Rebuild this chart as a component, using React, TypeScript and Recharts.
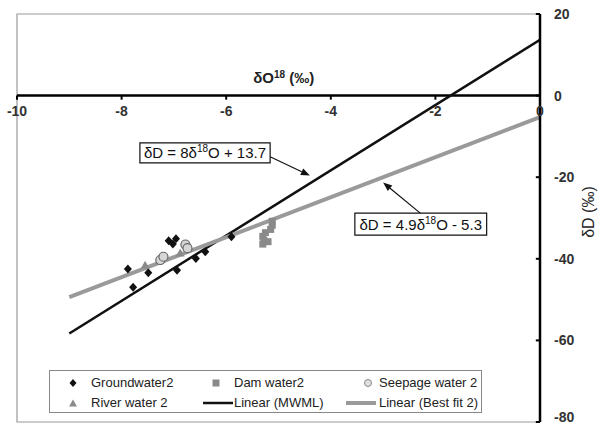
import React from 'react'
import {
  ComposedChart,
  XAxis,
  YAxis,
  Scatter,
  Line,
  ReferenceLine,
  ReferenceArea,
  ReferenceDot,
  Legend,
} from 'recharts'

const FONT = "'Liberation Sans', Arial, sans-serif"

// values (δ18O, δD)
const groundwater = [
  { x: -7.88, y: -42.5 },
  { x: -7.78, y: -47.0 },
  { x: -7.49, y: -43.4 },
  { x: -7.1, y: -35.6 },
  { x: -6.96, y: -35.1 },
  { x: -7.02, y: -36.4 },
  { x: -6.94, y: -42.8 },
  { x: -6.58, y: -39.9 },
  { x: -6.4, y: -38.3 },
  { x: -5.9, y: -34.6 },
]

const damWater = [
  { x: -5.12, y: -30.8 },
  { x: -5.12, y: -31.8 },
  { x: -5.15, y: -32.8 },
  { x: -5.25, y: -33.6 },
  { x: -5.3, y: -34.5 },
  { x: -5.28, y: -35.5 },
  { x: -5.3, y: -36.4 },
  { x: -5.2, y: -35.8 },
]

const seepageWater = [
  { x: -7.26, y: -40.3 },
  { x: -7.2, y: -39.5 },
  { x: -6.78, y: -36.5 },
  { x: -6.74, y: -37.4 },
]

const riverWater = [
  { x: -7.55, y: -41.6 },
  { x: -6.88, y: -38.6 },
]

const mwmlLine = [
  { x: -9, y: -58.3 },
  { x: 0, y: 13.7 },
]

const bestFitLine = [
  { x: -9, y: -49.4 },
  { x: 0, y: -5.3 },
]

const xTicks = [-10, -8, -6, -4, -2, 0]
const yTicks = [-80, -60, -40, -20, 0, 20]

const GROUND_COLOR = '#111111'
const DAM_COLOR = '#8a8a8a'
const RIVER_COLOR = '#8a8a8a'
const MWML_COLOR = '#111111'
const FIT_COLOR = '#9a9a9a'

function Diamond(props: any) {
  const { cx, cy } = props
  return <path d={`M${cx},${cy - 4.5}L${cx + 4},${cy}L${cx},${cy + 4.5}L${cx - 4},${cy}Z`} fill={GROUND_COLOR} />
}

function Square(props: any) {
  const { cx, cy } = props
  return <rect x={cx - 3.5} y={cy - 3.5} width={7} height={7} fill={DAM_COLOR} />
}

function Circle(props: any) {
  const { cx, cy } = props
  return <circle cx={cx} cy={cy} r={4.5} fill="#d6d6d6" stroke="#666" strokeWidth={1.2} />
}

function Triangle(props: any) {
  const { cx, cy } = props
  return <path d={`M${cx},${cy - 4.5}L${cx + 4.5},${cy + 3.5}L${cx - 4.5},${cy + 3.5}Z`} fill={RIVER_COLOR} />
}

function Arrow(props: any) {
  const { x1, y1, x2, y2 } = props
  const a = Math.atan2(y2 - y1, x2 - x1)
  const len = 9
  const w = 3.5
  const bx = x2 - len * Math.cos(a)
  const by = y2 - len * Math.sin(a)
  const p1 = `${bx + w * Math.sin(a)},${by - w * Math.cos(a)}`
  const p2 = `${bx - w * Math.sin(a)},${by + w * Math.cos(a)}`
  return (
    <g>
      <line x1={x1} y1={y1} x2={bx} y2={by} stroke="#111" strokeWidth={1.2} />
      <polygon points={`${x2},${y2} ${p1} ${p2}`} fill="#111" />
    </g>
  )
}

function EqLabel(props: any) {
  const { viewBox, coef, rest } = props
  const { x, y, width, height } = viewBox
  return (
    <text
      x={x + width / 2}
      y={y + height / 2}
      dy="0.36em"
      textAnchor="middle"
      fontSize={15}
      fontFamily={FONT}
      fill="#111"
    >
      {`δD = ${coef}δ`}
      <tspan dy={-6} fontSize={10}>18</tspan>
      <tspan dy={6}>{`O ${rest}`}</tspan>
    </text>
  )
}

function XTitle(props: any) {
  const { viewBox } = props
  return (
    <text
      x={viewBox.x}
      y={viewBox.y}
      dy="0.36em"
      textAnchor="middle"
      fontSize={15}
      fontWeight="bold"
      fontFamily={FONT}
      fill="#222"
    >
      δO
      <tspan dy={-5} fontSize={10}>18</tspan>
      <tspan dy={5}> (‰)</tspan>
    </text>
  )
}

function YTitle(props: any) {
  const { viewBox } = props
  const cx = viewBox.x + viewBox.width - 12
  const cy = viewBox.y + viewBox.height / 2 - 6
  return (
    <text
      x={cx}
      y={cy}
      transform={`rotate(-90 ${cx} ${cy})`}
      dy="0.36em"
      textAnchor="middle"
      fontSize={16}
      fontFamily={FONT}
      fill="#222"
    >
      δD (‰)
    </text>
  )
}

function YTick(props: any) {
  const { x, y, payload } = props
  // keep the lowest label inside the picture
  const ty = Math.min(y, 417)
  return (
    <text x={x} y={ty} dy="0.36em" textAnchor="start" fontSize={14} fontWeight="bold" fill="#333" fontFamily={FONT}>
      {payload.value}
    </text>
  )
}

function LegendMarker(props: { kind: string }) {
  const k = props.kind
  if (k === 'diamond') return <svg width={10} height={10}><path d="M5,1L8.5,5L5,9L1.5,5Z" fill={GROUND_COLOR} /></svg>
  if (k === 'square') return <svg width={10} height={10}><rect x={1.5} y={1.5} width={7} height={7} fill={DAM_COLOR} /></svg>
  if (k === 'circle') return <svg width={10} height={10}><circle cx={5} cy={5} r={3.5} fill="#e0e0e0" stroke="#888" /></svg>
  if (k === 'triangle') return <svg width={10} height={10}><path d="M5,1.5L9,8.5L1,8.5Z" fill={RIVER_COLOR} /></svg>
  if (k === 'black') return <svg width={30} height={10}><line x1={0} y1={5} x2={30} y2={5} stroke={MWML_COLOR} strokeWidth={2.5} /></svg>
  return <svg width={30} height={10}><line x1={0} y1={5} x2={30} y2={5} stroke={FIT_COLOR} strokeWidth={4} /></svg>
}

const legendItems = [
  { label: 'Groundwater2', kind: 'diamond', left: 18, text: 41, row: 0 },
  { label: 'Dam water2', kind: 'square', left: 161, text: 184, row: 0 },
  { label: 'Seepage water 2', kind: 'circle', left: 313, text: 329, row: 0 },
  { label: 'River water 2', kind: 'triangle', left: 18, text: 41, row: 1 },
  { label: 'Linear (MWML)', kind: 'black', left: 153, text: 184, row: 1 },
  { label: 'Linear (Best fit 2)', kind: 'grey', left: 296, text: 329, row: 1 },
]

function LegendBox() {
  return (
    <div
      style={{
        position: 'relative',
        width: 433,
        height: 43,
        border: '1px solid #888',
        background: '#fff',
        boxSizing: 'border-box',
        fontFamily: FONT,
        fontSize: 13,
        color: '#222',
      }}
    >
      {legendItems.map(item => (
        <React.Fragment key={item.label}>
          <div style={{ position: 'absolute', left: item.left, top: item.row === 0 ? 7 : 27, lineHeight: 0 }}>
            <LegendMarker kind={item.kind} />
          </div>
          <div style={{ position: 'absolute', left: item.text, top: item.row === 0 ? 3 : 23, lineHeight: '17px', whiteSpace: 'nowrap' }}>
            {item.label}
          </div>
        </React.Fragment>
      ))}
    </div>
  )
}

export default function App() {
  return (
    <div style={{ position: 'fixed', left: 0, top: 0, width: 605, height: 427, background: '#fff' }}>
      <ComposedChart width={605} height={427} margin={{ top: 14, right: 5, bottom: 5, left: 17 }}>
        <XAxis type="number" dataKey="x" domain={[-10, 0]} ticks={xTicks} hide allowDataOverflow />
        <YAxis
          type="number"
          dataKey="y"
          orientation="right"
          domain={[-80, 20]}
          ticks={yTicks}
          interval={0}
          width={60}
          axisLine={{ stroke: '#000', strokeWidth: 2.5 }}
          tickLine={false}
          tickSize={6}
          tickMargin={8}
          tick={<YTick />}
          label={<YTitle />}
          allowDataOverflow
        />
        <ReferenceArea x1={-10} x2={0} y1={-80} y2={20} fill="none" stroke="#9a9a9a" strokeWidth={1.2} />
        <ReferenceLine y={0} stroke="#000" strokeWidth={2.5} />
        {xTicks.map(t => (
          <ReferenceLine
            key={`tk${t}`}
            segment={[{ x: t, y: 0 }, { x: t, y: -1 }]}
            stroke="#000"
            strokeWidth={2}
          />
        ))}
        {yTicks.map(t => (
          <ReferenceLine
            key={`ytk${t}`}
            segment={[{ x: -0.08, y: t }, { x: 0, y: t }]}
            stroke="#000"
            strokeWidth={2}
          />
        ))}
        {xTicks.map(t => (
          <ReferenceDot
            key={`tl${t}`}
            x={t}
            y={0}
            r={0}
            stroke="none"
            fill="none"
            label={{ value: String(t), position: 'bottom', offset: 10, fontSize: 14, fontWeight: 'bold', fill: '#333', fontFamily: FONT }}
          />
        ))}
        <ReferenceDot x={-4.9} y={4.4} r={0} stroke="none" fill="none" label={<XTitle />} />
        <Line data={mwmlLine} dataKey="y" stroke={MWML_COLOR} strokeWidth={2.5} dot={false} isAnimationActive={false} />
        <Line data={bestFitLine} dataKey="y" stroke={FIT_COLOR} strokeWidth={4} dot={false} isAnimationActive={false} />
        <Scatter data={groundwater} dataKey="y" shape={<Diamond />} isAnimationActive={false} />
        <Scatter data={damWater} dataKey="y" shape={<Square />} isAnimationActive={false} />
        <Scatter data={seepageWater} dataKey="y" shape={<Circle />} isAnimationActive={false} />
        <Scatter data={riverWater} dataKey="y" shape={<Triangle />} isAnimationActive={false} />
        <ReferenceArea
          x1={-7.65}
          x2={-5.16}
          y1={-11.6}
          y2={-16.5}
          fill="#fff"
          fillOpacity={1}
          stroke="#111"
          strokeWidth={1.2}
          label={<EqLabel coef="8" rest="+ 13.7" />}
        />
        <ReferenceArea
          x1={-3.54}
          x2={-1.02}
          y1={-28.8}
          y2={-34.2}
          fill="#fff"
          fillOpacity={1}
          stroke="#111"
          strokeWidth={1.2}
          label={<EqLabel coef="4.9" rest="- 5.3" />}
        />
        <ReferenceLine segment={[{ x: -5.16, y: -15.0 }, { x: -4.4, y: -19.6 }]} shape={<Arrow />} />
        <ReferenceLine segment={[{ x: -2.29, y: -28.8 }, { x: -3.0, y: -21.3 }]} shape={<Arrow />} />
        <Legend
          layout="horizontal"
          verticalAlign="middle"
          align="center"
          content={() => <LegendBox />}
          wrapperStyle={{ left: 49, top: 370, width: 433, height: 43 }}
        />
      </ComposedChart>
    </div>
  )
}
